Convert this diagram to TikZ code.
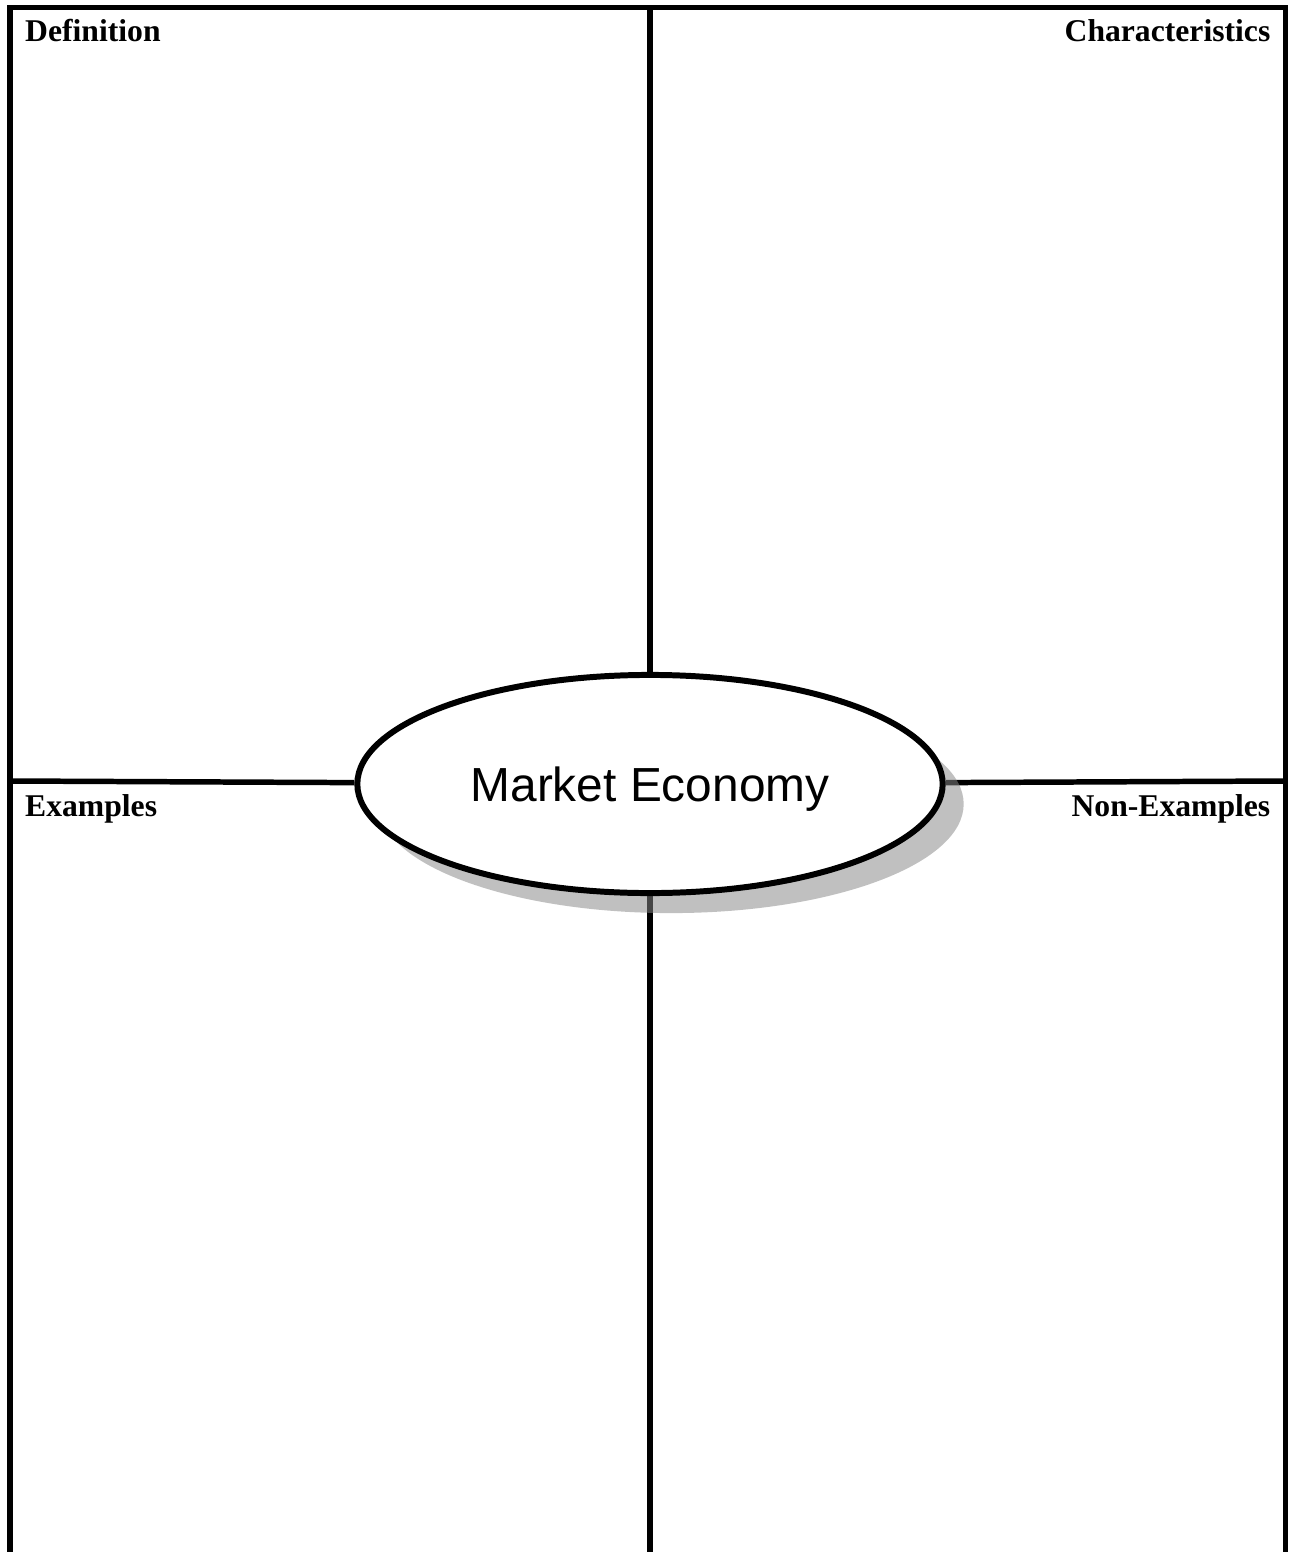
\documentclass[tikz,border=0pt]{standalone}
\usepackage{fontspec}
\setmainfont{Liberation Serif}
\newfontfamily\hubfont{Liberation Sans}
\usetikzlibrary{shapes.geometric, shadows, backgrounds}

\begin{document}
\begin{tikzpicture}[x=0.01cm, y=-0.01cm,
    frame/.style={line width=1.56pt, line join=miter},
    corner/.style={font=\fontsize{9pt}{11pt}\selectfont\bfseries, inner sep=0pt},
    hubnode/.style={ellipse, draw, line width=1.7pt, fill=white,
        minimum width=5.85cm, minimum height=2.18cm, inner sep=0pt,
        text depth=0pt, font=\hubfont\fontsize{13.6pt}{16pt}\selectfont,
        drop shadow={shadow xshift=0.21cm, shadow yshift=-0.2cm,
                     fill=black!47, opacity=0.52}}]
    % 画布
    \useasboundingbox (0,0) rectangle (1291,1552);

    % 中心椭圆
    \node[hubnode] (hub) at (650,784) {Market Economy};

    % 四个标题
    \foreach \px/\py/\anc/\txt/\nm in {24.5/42/base west/Definition/def,
                                       1271/42/base east/Characteristics/chr,
                                       24.5/816/base west/Examples/ex,
                                       1271/816/base east/Non-Examples/nonex} {
        \node[corner, anchor=\anc] (\nm) at (\px,\py) {\txt};
    }

    % 外框和分隔线
    \coordinate (bl) at (10,1552);
    \coordinate (tl) at (10,7.5);
    \coordinate (tr) at (1285.5,7.5);
    \coordinate (br) at (1285.5,1552);
    \coordinate (topmid) at (650,7.5);
    \coordinate (botmid) at (650,1552);
    \coordinate (leftmid) at (10,781);
    \coordinate (rightmid) at (1285.5,781);
    \begin{scope}[on background layer]
        \draw[frame] (bl) -- (tl) -- (tr) -- (br);
        \draw[frame] (topmid) -- (hub);
        \draw[frame] (hub) -- (botmid);
        \draw[frame] (leftmid) -- (hub);
        \draw[frame] (hub) -- (rightmid);
    \end{scope}
\end{tikzpicture}
\end{document}
